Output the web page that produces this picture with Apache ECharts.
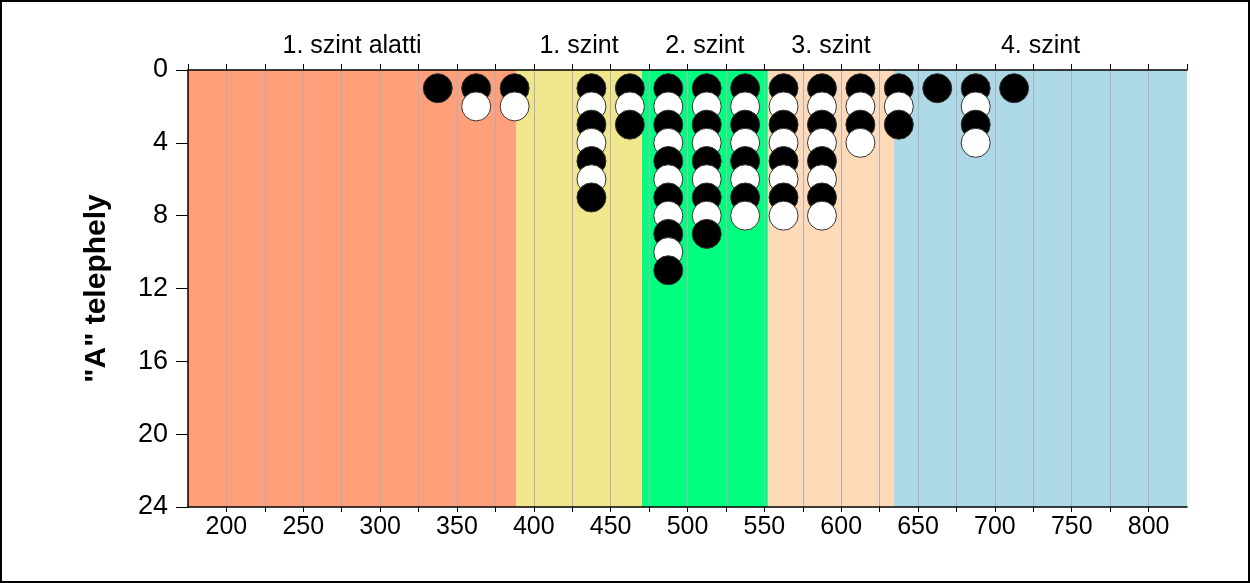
<!DOCTYPE html>
<html>
<head>
<meta charset="utf-8">
<script src="https://cdn.jsdelivr.net/npm/echarts@6/dist/echarts.min.js"></script>
<style>
html,body{margin:0;padding:0;background:#fff;}
#box{width:1250px;height:583px;box-sizing:border-box;border:2px solid #000;position:relative;}
#chart{position:absolute;left:-2px;top:-2px;width:1250px;height:583px;}
</style>
</head>
<body>
<div id="box"><div id="chart"></div></div>
<script>
// Column centres (score bins) and the number of stacked dots in each
const binCenters = [337.5, 362.5, 387.5, 437.5, 462.5, 487.5, 512.5, 537.5, 562.5, 587.5, 612.5, 637.5, 662.5, 687.5, 712.5];
const binCounts  = [1, 2, 2, 7, 3, 11, 9, 8, 8, 8, 4, 3, 1, 4, 1];

// Level bands
const bandNames  = ['1. szint alatti', '1. szint', '2. szint', '3. szint', '4. szint'];
const bandStarts = [175, 388.4, 470.4, 552.3, 634.4];
const bandEnds   = [388.4, 470.4, 552.3, 634.4, 825];
const bandColors = ['#FFA07A', '#F0E68C', '#00FF7F', '#FFDAB9', '#ADD8E6'];

// axis ticks
const xTicks = [200, 250, 300, 350, 400, 450, 500, 550, 600, 650, 700, 750, 800];
const yTicks = [0, 4, 8, 12, 16, 20, 24];

const FONT = "'Liberation Sans', Arial, sans-serif";

// build dot list: ordered by stack level so later dots overlap earlier ones
const dots = [];
const maxCount = Math.max.apply(null, binCounts);
for (let k = 1; k <= maxCount; k++) {
  binCenters.forEach((x, i) => {
    if (binCounts[i] >= k) {
      dots.push({
        value: [x, k],
        itemStyle: { color: k % 2 === 1 ? '#000000' : '#ffffff' }
      });
    }
  });
}

const areas = bandNames.map((n, i) => [
  { name: n, xAxis: bandStarts[i], yAxis: 0, itemStyle: { color: bandColors[i], opacity: 1 } },
  { xAxis: bandEnds[i], yAxis: 24 }
]);

const chart = echarts.init(document.getElementById('chart'), null, { renderer: 'canvas' });
chart.setOption({
  animation: false,
  backgroundColor: 'transparent',
  grid: { left: 188, right: 63, top: 70, bottom: 76, containLabel: false },
  xAxis: [
    {
      type: 'value', position: 'bottom', min: 175, max: 825, interval: 25, z: 2,
      axisLine: { show: true, onZero: false, lineStyle: { color: '#000', width: 1.5 } },
      axisTick: { show: true, length: 5, lineStyle: { color: '#000' } },
      axisLabel: {
        margin: 8, color: '#000', fontSize: 25, fontFamily: FONT,
        formatter: v => (xTicks.indexOf(v) >= 0 ? String(v) : ''),
        showMinLabel: false, showMaxLabel: false
      },
      splitLine: { show: true, showMinLine: false, showMaxLine: false, lineStyle: { color: '#aab0bc', width: 1 } }
    },
    {
      type: 'value', position: 'top', min: 175, max: 825, interval: 25, z: 2,
      axisLine: { show: true, onZero: false, lineStyle: { color: '#000', width: 1.5 } },
      axisTick: { show: true, length: 6, lineStyle: { color: '#000' } },
      axisLabel: { show: false },
      splitLine: { show: false }
    }
  ],
  yAxis: {
    type: 'value', inverse: true, min: 0, max: 24, interval: 4, z: 2,
    name: '"A" telephely', nameLocation: 'middle', nameGap: 76,
    nameTextStyle: { fontSize: 30, fontWeight: 'bold', color: '#000', fontFamily: FONT },
    axisLine: { show: true, onZero: false, lineStyle: { color: '#000', width: 1.5 } },
    axisTick: { show: true, length: 12, lineStyle: { color: '#000' } },
    axisLabel: {
      margin: 20, color: '#000', fontSize: 27, fontFamily: FONT,
      formatter: v => (yTicks.indexOf(v) >= 0 ? String(v) : '')
    },
    splitLine: { show: false }
  },
  series: [
    {
      type: 'scatter', z: 0, data: [], silent: true,
      markArea: {
        silent: true, z: 0,
        label: { show: true, position: 'top', distance: 11, color: '#000', fontSize: 25, fontFamily: FONT },
        data: areas
      }
    },
    {
      type: 'scatter', z: 3, symbol: 'circle', symbolSize: 29,
      itemStyle: { borderColor: '#333', borderWidth: 1, opacity: 1 },
      data: dots
    }
  ]
});
</script>
</body>
</html>
